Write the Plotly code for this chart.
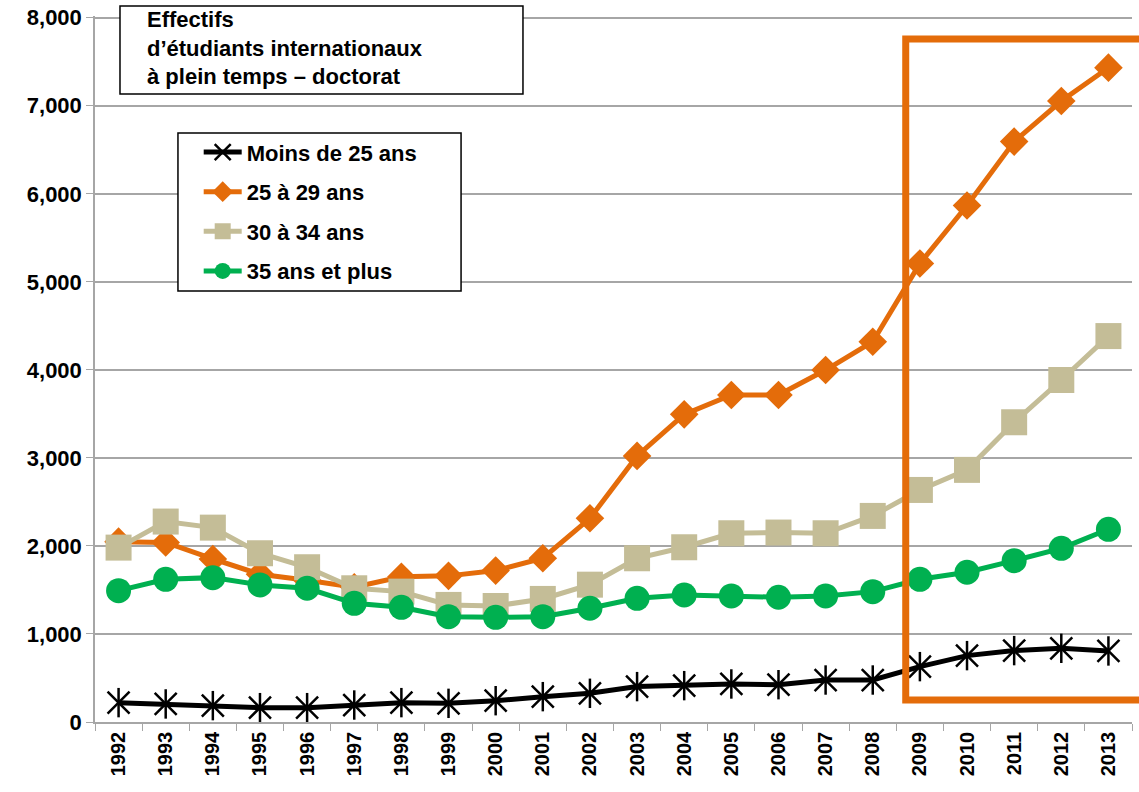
import plotly.graph_objects as go

# palette, Excel-ish
ORANGE = "#E46C0A"
BEIGE  = "#C4BD97"
GREEN  = "#00B050"
BLACK  = "#000000"
GRIDC  = "#A6A6A6"
FONT   = "Arial, Liberation Sans, sans-serif"

years = [str(y) for y in range(1992, 2014)]

moins_25 = [220, 205, 186, 163, 163, 193, 220, 212, 242, 288, 326,
            402, 413, 432, 424, 477, 477, 629, 754, 811, 837, 807]
ans_25_29 = [2049, 2040, 1852, 1678, 1610, 1530, 1650, 1660, 1720, 1860, 2314,
             3023, 3495, 3715, 3715, 3998, 4320, 5209, 5867, 6593, 7054, 7433]
ans_30_34 = [1981, 2277, 2208, 1917, 1758, 1519, 1481, 1330, 1318, 1398, 1560,
             1860, 1985, 2144, 2152, 2144, 2341, 2636, 2864, 3405, 3885, 4384]
ans_35_plus = [1492, 1621, 1640, 1557, 1519, 1348, 1303, 1197, 1189, 1197, 1292,
               1405, 1443, 1432, 1417, 1432, 1481, 1621, 1701, 1833, 1973, 2189]

TITLE = "Effectifs<br>d’étudiants internationaux<br>à plein temps – doctorat"

fig = go.Figure()

# black series: X marker plus a vertical stroke -> Excel star
fig.add_trace(go.Scatter(
    x=years, y=moins_25, name="Moins de 25 ans", legendgroup="a",
    mode="lines+markers", line=dict(color=BLACK, width=5),
    marker=dict(symbol="x-thin-open", size=22, color=BLACK,
                line=dict(color=BLACK, width=2.5)),
))
fig.add_trace(go.Scatter(
    x=years, y=moins_25, legendgroup="a", showlegend=False,
    mode="markers", hoverinfo="skip",
    marker=dict(symbol="line-ns-open", size=21, color=BLACK,
                line=dict(color=BLACK, width=2.5)),
))
fig.add_trace(go.Scatter(
    x=years, y=ans_25_29, name="25 à 29 ans", legendgroup="b",
    mode="lines+markers", line=dict(color=ORANGE, width=5),
    marker=dict(symbol="diamond", size=22, color=ORANGE),
))
fig.add_trace(go.Scatter(
    x=years, y=ans_30_34, name="30 à 34 ans", legendgroup="c",
    mode="lines+markers", line=dict(color=BEIGE, width=5),
    marker=dict(symbol="square", size=26, color=BEIGE),
))
fig.add_trace(go.Scatter(
    x=years, y=ans_35_plus, name="35 ans et plus", legendgroup="d",
    mode="lines+markers", line=dict(color=GREEN, width=5),
    marker=dict(symbol="circle", size=25, color=GREEN),
))

# title box and legend box
fig.add_shape(type="rect", xref="paper", yref="paper",
              x0=0.0241, x1=0.4127, y0=0.8895, y1=1.0142,
              line=dict(color=BLACK, width=1.5), fillcolor="white", layer="above")
fig.add_shape(type="rect", xref="paper", yref="paper",
              x0=0.0800, x1=0.3530, y0=0.6105, y1=0.8343,
              line=dict(color=BLACK, width=1.5), fillcolor="white", layer="above")
# highlight frame 2009-2013
fig.add_shape(type="rect", xref="paper", yref="paper",
              x0=0.7818, x1=1.05, y0=0.0312, y1=0.9674,
              line=dict(color=ORANGE, width=7), layer="above")

fig.add_annotation(
    xref="paper", yref="paper", x=0.048, y=1.016,
    xanchor="left", yanchor="top", align="left", showarrow=False,
    text=TITLE, font=dict(family=FONT, size=22, color=BLACK, weight="bold"),
)

# range top nudged past 8000 so plotly keeps the top gridline
fig.update_layout(
    width=1139, height=792,
    paper_bgcolor="white", plot_bgcolor="white",
    margin=dict(l=95, r=7, t=16, b=70),
    font=dict(family=FONT, color=BLACK, weight="bold"),
    legend=dict(
        x=0.100, y=0.8367, xanchor="left", yanchor="top",
        bgcolor="rgba(0,0,0,0)", borderwidth=0,
        traceorder="grouped", tracegroupgap=8, itemwidth=38,
        font=dict(family=FONT, size=22, color=BLACK, weight="bold"),
    ),
    xaxis=dict(
        type="category", range=[-0.5, 21.5], automargin=False, showgrid=False,
        showline=True, linecolor=GRIDC, linewidth=1.5,
        ticks="outside", tickson="boundaries", ticklen=7, tickcolor=GRIDC,
        tickangle=-90, tickfont=dict(family=FONT, size=20, weight="bold"),
    ),
    yaxis=dict(
        range=[0, 8020], dtick=1000, tickformat=",", automargin=False,
        ticklabeloverflow="allow",
        showgrid=True, gridcolor=GRIDC, gridwidth=1.5,
        showline=True, linecolor=GRIDC, linewidth=1.5,
        ticks="outside", ticklen=7, tickcolor=GRIDC,
        zeroline=False,
        tickfont=dict(family=FONT, size=22, weight="bold"),
    ),
)

# drop the browser's default 8px body margin so the figure sits at 0,0
fig.write_html("out.html",
               config=dict(displayModeBar=False),
               post_script="document.body.style.margin='0';")
